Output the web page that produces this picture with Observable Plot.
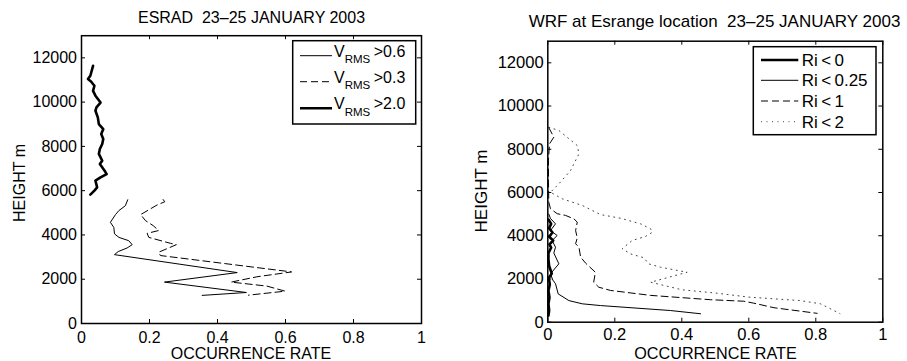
<!DOCTYPE html>
<html><head><meta charset="utf-8">
<script src="https://cdn.jsdelivr.net/npm/d3@7"></script>
<script src="https://cdn.jsdelivr.net/npm/@observablehq/plot@0.6"></script>
<style>
body{margin:0;background:#fff;}
#wrap{position:relative;width:907px;height:361px;overflow:hidden;background:#fff;font-family:"Liberation Sans",Arial,Helvetica,sans-serif;}
#wrap svg{position:absolute;top:0;}
</style></head><body><div id="wrap"></div>
<script>
// ---------- ticks ----------
const xTicks = [0, 0.2, 0.4, 0.6, 0.8, 1];
const xTickLabels = ["0", "0.2", "0.4", "0.6", "0.8", "1"];
const yTicks = [0, 2000, 4000, 6000, 8000, 10000, 12000];
const yTickLabels = ["0", "2000", "4000", "6000", "8000", "10000", "12000"];

// ---------- ESRAD panel ----------
const esradTitle = "ESRAD  23\u201325 JANUARY 2003";
const esrad06Rate   = [0.136,0.129,0.110,0.100,0.085,0.095,0.097,0.110,0.139,0.149,0.134,0.108,0.097,0.458,0.244,0.485,0.355];
const esrad06Height = [5590,5320,5100,4920,4570,4340,4050,3890,3740,3560,3410,3250,3110,2300,1870,1400,1270];
const esrad03Rate   = [0.240,0.245,0.222,0.203,0.174,0.188,0.211,0.227,0.193,0.198,0.262,0.279,0.227,0.232,0.618,0.516,0.440,0.545,0.599,0.491];
const esrad03Height = [5600,5500,5350,5180,4920,4650,4420,4200,4070,3890,3620,3560,3220,3070,2330,2110,1870,1690,1460,1280];
const esrad20Rate   = [0.034,0.026,0.019,0.028,0.038,0.034,0.041,0.056,0.044,0.041,0.048,0.051,0.064,0.058,0.064,0.061,0.054,0.051,0.061,0.054,0.068,0.074,0.056,0.041,0.046,0.038,0.026];
const esrad20Height = [11640,11190,11040,10930,10740,10510,10290,9980,9760,9610,9310,9010,8780,8560,8330,8110,7880,7660,7350,7200,6900,6750,6600,6450,6150,6000,5820];
const esradLegend = [">0.6", ">0.3", ">2.0"];

// ---------- WRF panel ----------
const wrfTitle = "WRF at Esrange location  23\u201325 JANUARY 2003";
const wrfRi0Rate    = [0.002,0.010,0.004,0.014,0.004,0.016,0.005,0.010,0.002,0.002,0.004,0.012,0.003,0.006,0.002,0.005,0.002,0.004,0.002];
const wrfRi0Height  = [4750,4550,4350,4150,3950,3780,3600,3450,3200,2900,2600,2250,2050,1750,1450,1150,850,550,300];
const wrfRi025Rate   = [0.003,0.008,0.023,0.008,0.028,0.013,0.023,0.018,0.033,0.008,0.015,0.023,0.031,0.063,0.103,0.157,0.366,0.456];
const wrfRi025Height = [5000,4800,4550,4240,4010,3780,3470,3200,2700,2240,1950,1780,1310,1000,850,770,540,390];
const wrfRi1Rate    = [0.003,0.018,0.005,0.002,0.002,0.003,0.008,0.028,0.053,0.078,0.088,0.083,0.088,0.083,0.093,0.098,0.113,0.142,0.137,0.152,0.187,0.307,0.486,0.585,0.615,0.675,0.804];
const wrfRi1Height  = [9000,8560,8250,7500,6500,5550,5250,5020,4940,4780,4630,4240,3900,3630,3470,3010,2730,2310,1850,1620,1470,1240,1040,970,880,670,410];
const wrfRi2Rate    = [0.003,0.033,0.088,0.093,0.068,0.033,0.008,0.043,0.103,0.157,0.217,0.277,0.307,0.312,0.292,0.252,0.222,0.247,0.287,0.301,0.336,0.416,0.307,0.400,0.506,0.600,0.754,0.814,0.872];
const wrfRi2Height  = [9020,8870,8170,7790,7020,6400,6010,5710,5400,4980,4810,4550,4320,4160,3970,3780,3400,3160,2980,2700,2545,2310,1850,1500,1340,1160,1000,850,400];
const wrfLegend = ["Ri < 0", "Ri < 0.25", "Ri < 1", "Ri < 2"];

const xLabel = "OCCURRENCE RATE";
const yLabel = "HEIGHT m";

// ---------- styles ----------
const STY = {
  thin:   {stroke: "black", strokeWidth: 1},
  dashed: {stroke: "black", strokeWidth: 1, strokeDasharray: "7,4"},
  thick:  {stroke: "black", strokeWidth: 2.6},
  dotted: {stroke: "#444", strokeWidth: 1, strokeDasharray: "1,4.5"}
};
const zip = (xs, ys) => xs.map((x, i) => ({x, y: ys[i]}));
const H = 361, tickLen = 4;

function panel(o) {
  const innerW = o.width - o.mL - o.mR, innerH = H - o.mT - o.mB;
  const fx = d => xTickLabels[xTicks.indexOf(d)];
  const fy = d => yTickLabels[yTicks.indexOf(d)];
  const svg = Plot.plot({
    width: o.width, height: H,
    marginLeft: o.mL, marginRight: o.mR, marginTop: o.mT, marginBottom: o.mB,
    style: {fontFamily: '"Liberation Sans",Arial,Helvetica,sans-serif', fontSize: o.fs + "px", color: "black", background: "transparent", overflow: "visible"},
    x: {domain: [0, 1]},
    y: {domain: [0, 13000]},
    marks: [
      ...o.series.map(s => Plot.line(zip(s.x, s.y), {x: "x", y: "y", ...STY[s.style]})),
      Plot.tickX(xTicks, {x: d => d, insetTop: innerH - tickLen, stroke: "black"}),
      Plot.tickX(xTicks, {x: d => d, insetBottom: innerH - tickLen, stroke: "black"}),
      Plot.tickY(yTicks, {y: d => d, insetRight: innerW - tickLen, stroke: "black"}),
      Plot.tickY(yTicks, {y: d => d, insetLeft: innerW - tickLen, stroke: "black"}),
      Plot.axisX(xTicks, {tickFormat: fx, tickSize: 0, tickPadding: o.padX, label: null}),
      Plot.axisY(yTicks, {tickFormat: fy, tickSize: 0, tickPadding: o.padY, label: null}),
      Plot.frame({stroke: "black", strokeWidth: 1.5})
    ]
  });
  svg.style.left = o.left + "px";
  return svg;
}

const wrap = document.getElementById("wrap");
wrap.appendChild(panel({
  left: 0, width: 453, mL: 81, mR: 32, mT: 35.2, mB: 38, fs: 16, padX: 8, padY: 4.5,
  series: [
    {x: esrad06Rate, y: esrad06Height, style: "thin"},
    {x: esrad03Rate, y: esrad03Height, style: "dashed"},
    {x: esrad20Rate, y: esrad20Height, style: "thick"}
  ]
}));
wrap.appendChild(panel({
  left: 453, width: 454, mL: 94.3, mR: 24.7, mT: 40.7, mB: 39.3, fs: 16.6, padX: 6.5, padY: 4,
  series: [
    {x: wrfRi0Rate, y: wrfRi0Height, style: "thick"},
    {x: wrfRi025Rate, y: wrfRi025Height, style: "thin"},
    {x: wrfRi1Rate, y: wrfRi1Height, style: "dashed"},
    {x: wrfRi2Rate, y: wrfRi2Height, style: "dotted"}
  ]
}));

// ---------- overlay: titles, axis labels, legends ----------
const ov = d3.create("svg").attr("width", 907).attr("height", H)
  .style("left", "0px").style("font-family", '"Liberation Sans",Arial,Helvetica,sans-serif');
function txt(x, y, s, fs) {
  return ov.append("text").attr("x", x).attr("y", y).attr("font-size", fs).attr("text-anchor", "middle").attr("fill", "black").text(s);
}
txt(251.5, 23.3, esradTitle, 16).style("white-space", "pre");
txt(714.5, 27, wrfTitle, 17).style("white-space", "pre");
txt(251, 358.5, xLabel, 16);
txt(715.5, 358.8, xLabel, 16.2);
txt(0, 0, yLabel, 16).attr("transform", "translate(25,183) rotate(-90)");
txt(0, 0, yLabel, 17).attr("transform", "translate(487,191) rotate(-90)");

// left legend
{
  const g = ov.append("g").attr("transform", "translate(292.7,40.7)");
  g.append("rect").attr("width", 123).attr("height", 83.3).attr("fill", "white").attr("stroke", "black").attr("stroke-width", 1.5);
  const styles = ["thin", "dashed", "thick"];
  const rows = [15, 41, 67.6];
  esradLegend.forEach((lab, i) => {
    const st = STY[styles[i]];
    g.append("line").attr("x1", 7.3).attr("x2", 39.3).attr("y1", rows[i]).attr("y2", rows[i])
      .attr("stroke", st.stroke).attr("stroke-width", st.strokeWidth).attr("stroke-dasharray", st.strokeDasharray || null);
    const t = g.append("text").attr("x", 41.3).attr("y", rows[i] + 1).attr("font-size", 16).attr("fill", "black");
    t.append("tspan").text("V");
    t.append("tspan").attr("font-size", 11.5).attr("dy", 6.6).text("RMS");
    t.append("tspan").attr("dy", -6.6).attr("dx", 3.5).text(lab);
  });
}
// right legend
{
  const g = ov.append("g").attr("transform", "translate(753.3,46.7)");
  g.append("rect").attr("width", 122.7).attr("height", 88).attr("fill", "white").attr("stroke", "black").attr("stroke-width", 1.5);
  const styles = ["thick", "thin", "dashed", "dotted"];
  const rows = [13.3, 33.6, 54.3, 75];
  wrfLegend.forEach((lab, i) => {
    const st = STY[styles[i]];
    g.append("line").attr("x1", 7.7).attr("x2", 45).attr("y1", rows[i]).attr("y2", rows[i])
      .attr("stroke", st.stroke).attr("stroke-width", st.strokeWidth).attr("stroke-dasharray", st.strokeDasharray || null);
    g.append("text").attr("x", 48.4).attr("y", rows[i]).attr("dy", "0.35em").attr("font-size", 17).attr("fill", "black")
      .style("white-space", "pre").text(lab.replace(/ < /g, "\u2009<\u2009"));
  });
}
wrap.appendChild(ov.node());
</script>
</body></html>
